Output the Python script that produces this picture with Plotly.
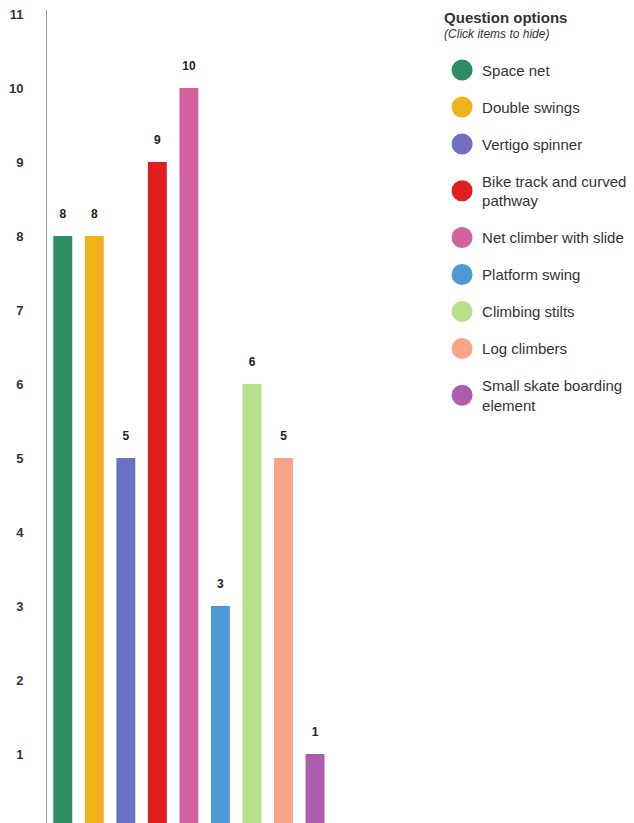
import plotly.graph_objects as go

categories = ["Space net", "Double swings", "Vertigo spinner", "Bike track and curved pathway",
              "Net climber with slide", "Platform swing", "Climbing stilts", "Log climbers",
              "Small skate boarding element"]
legend_labels = ["Space net", "Double swings", "Vertigo spinner", "Bike track and curved<br>pathway",
                 "Net climber with slide", "Platform swing", "Climbing stilts", "Log climbers",
                 "Small skate boarding<br>element"]
values = [8, 8, 5, 9, 10, 3, 6, 5, 1]
colors = ["#2e8c66", "#f2b01c", "#6a70c2", "#e01e1e", "#d0629e", "#4b9ad6", "#b9e08c", "#f8a486", "#ae5cae"]
y_ticks = list(range(1, 12))

fig = go.Figure()
for cat, val, col in zip(categories, values, colors):
    fig.add_trace(go.Bar(
        x=[cat], y=[val], marker=dict(color=col, line=dict(width=0)),
        legendgroup=cat, showlegend=False, name=cat, hovertemplate="%{x}: %{y}<extra></extra>",
    ))
    fig.add_trace(go.Scatter(
        x=[cat], y=[val], mode="markers+text", text=[f"<b>{val}</b>"], textposition="top center",
        textfont=dict(family="Liberation Sans, Arial", size=12, color="#222"),
        marker=dict(size=22, opacity=0, color=col), cliponaxis=False,
        legendgroup=cat, showlegend=False, hoverinfo="skip", name=cat,
    ))
for cat, lab, col in zip(categories, legend_labels, colors):
    fig.add_trace(go.Scatter(
        x=[None], y=[None], mode="markers", name=lab, legendgroup=cat,
        marker=dict(symbol="circle", size=16, color=col, line=dict(color=col, width=5)),
        showlegend=True,
    ))

fig.update_layout(
    width=634, height=823,
    margin=dict(l=39, r=0, t=2, b=8, autoexpand=False),
    plot_bgcolor="white", paper_bgcolor="white",
    barmode="overlay", bargap=0.4,
    font=dict(family="Liberation Sans, Arial", color="#333"),
    showlegend=True,
    legend=dict(
        x=0.664, xanchor="left", y=1.0037, yanchor="top",
        traceorder="grouped", tracegroupgap=14.5, itemsizing="trace",
        font=dict(size=15, color="#333"),
        title=dict(text="<span style='font-size:15px'><b>Question options</b></span><br><i>(Click items to hide)</i><br> ",
                   font=dict(size=12, color="#333")),
        bgcolor="rgba(0,0,0,0)",
    ),
    xaxis=dict(domain=[0, 0.477], range=[-0.5, 8.5], categoryorder="array", categoryarray=categories,
               showticklabels=False, showline=False, showgrid=False, zeroline=False, ticks=""),
    yaxis=dict(range=[0.068, 11.054], tickvals=y_ticks, ticktext=[str(t) for t in y_ticks],
               showline=True, linecolor="#9aa3ad", linewidth=1, showgrid=False, zeroline=False,
               ticks="", ticklabelstandoff=20, automargin=False, ticklabeloverflow="allow",
               tickfont=dict(family="Liberation Sans, Arial", size=13, color="#333", weight="bold")),
)

fig.write_html("out.html")
